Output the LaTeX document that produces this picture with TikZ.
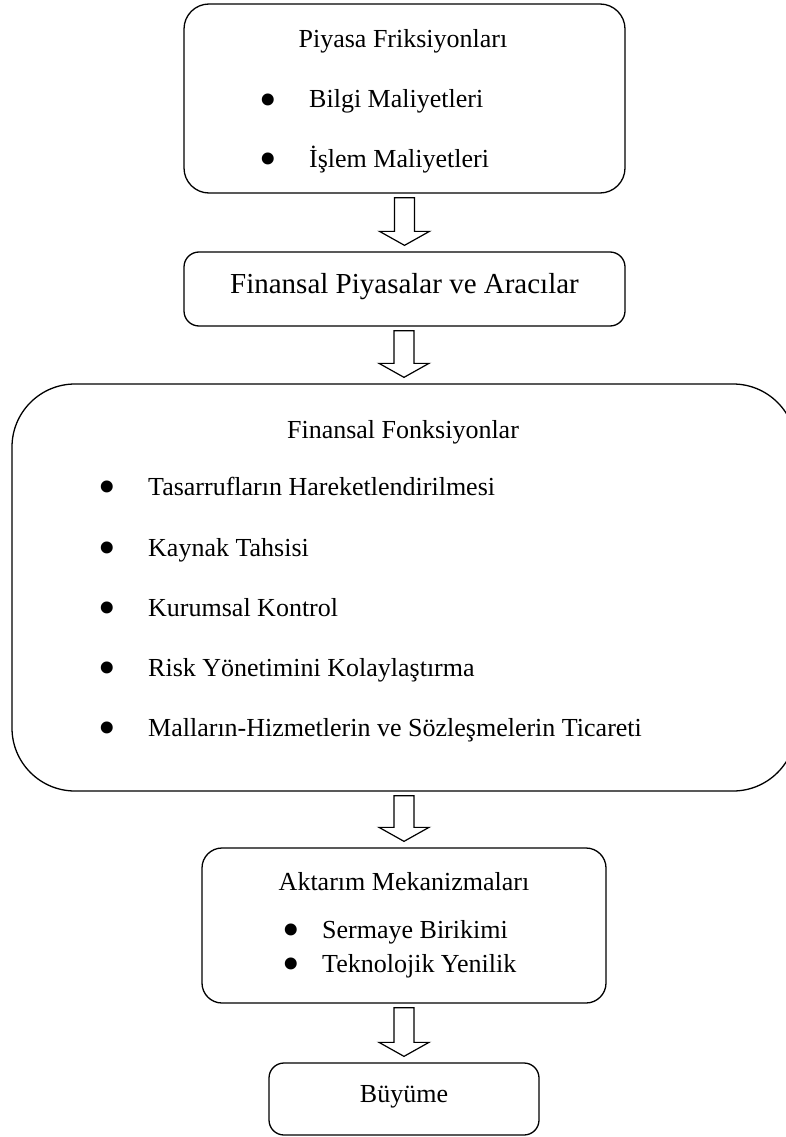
\documentclass[tikz,border=0pt]{standalone}
\usepackage{fontspec}
\setmainfont{Liberation Serif}
\usetikzlibrary{calc}

\tikzset{
    box/.style={draw, line width=1.3pt, inner sep=0pt},
    hollow/.style={draw, line width=1.2pt, line join=miter},
    txt/.style={inner sep=0pt, anchor=base, font=\fontsize{26}{30}\selectfont},
    item/.style={txt, anchor=base west},
    bul/.style={inner sep=0pt, anchor=base, font=\fontsize{50}{50}\selectfont},
}

\begin{document}
\begin{tikzpicture}[x=1pt,y=-1pt]
    \useasboundingbox (0,0) rectangle (786,1137);

    % Boxes
    \node [box, rounded corners=25pt, minimum width=441pt, minimum height=189pt]
        (frik) at (404.5,98.5) {};
    \node [box, rounded corners=15pt, minimum width=441pt, minimum height=74pt]
        (aracilar) at (404.5,289) {};
    \node [box, rounded corners=63pt, minimum width=784pt, minimum height=407pt]
        (fonk) at (404,587.5) {};
    \node [box, rounded corners=20pt, minimum width=404pt, minimum height=155pt]
        (aktarim) at (404,925.5) {};
    \node [box, rounded corners=15pt, minimum width=270pt, minimum height=72pt]
        (buyume) at (404,1099) {};

    % Block arrows
    \foreach \a/\b in {frik/aracilar, aracilar/fonk, fonk/aktarim, aktarim/buyume}
        \draw [hollow] let \p1=(\a.south), \p2=(\b.north) in
            (\x2-10pt,\y1-4pt) -- (\x2+10pt,\y1-4pt) -- (\x2+10pt,\y2+20pt)
            -- (\x2+25pt,\y2+20pt) -- (\x2,\y2+6pt) -- (\x2-25pt,\y2+20pt)
            -- (\x2-10pt,\y2+20pt) -- cycle;

    % Piyasa Friksiyonlari
    \node [txt] (frikT) at (403,48) {Piyasa Friksiyonları};
    \node [bul] (frikB1) at (268,116.5) {•};
    \node [item] (frikI1) at (309,108) {Bilgi Maliyetleri};
    \node [bul] (frikB2) at (268,175.5) {•};
    \node [item] (frikI2) at (309,167) {İşlem Maliyetleri};

    % Finansal Piyasalar
    \node [txt, font=\fontsize{29}{33}\selectfont] (aracilarT) at (404.5,293)
        {Finansal Piyasalar ve Aracılar};

    % Finansal Fonksiyonlar
    \node [txt] (fonkT) at (403,438) {Finansal Fonksiyonlar};
    \node [bul] (fonkB1) at (107,503.5) {•};
    \node [item] (fonkI1) at (148,495) {Tasarrufların Hareketlendirilmesi};
    \node [bul] (fonkB2) at (107,564.5) {•};
    \node [item] (fonkI2) at (148,556) {Kaynak Tahsisi};
    \node [bul] (fonkB3) at (107,624.5) {•};
    \node [item] (fonkI3) at (148,616) {Kurumsal Kontrol};
    \node [bul] (fonkB4) at (107,684.5) {•};
    \node [item] (fonkI4) at (148,676) {Risk Yönetimini Kolaylaştırma};
    \node [bul] (fonkB5) at (107,744.5) {•};
    \node [item] (fonkI5) at (148,736) {Malların-Hizmetlerin ve Sözleşmelerin Ticareti};

    % Aktarim Mekanizmalari
    \node [txt] (aktarimT) at (404,890) {Aktarım Mekanizmaları};
    \node [bul] (aktarimB1) at (291,946.5) {•};
    \node [item] (aktarimI1) at (322,938) {Sermaye Birikimi};
    \node [bul] (aktarimB2) at (291,980.5) {•};
    \node [item] (aktarimI2) at (322,972) {Teknolojik Yenilik};

    % Buyume
    \node [txt] (buyumeT) at (404,1102) {Büyüme};
\end{tikzpicture}
\end{document}
